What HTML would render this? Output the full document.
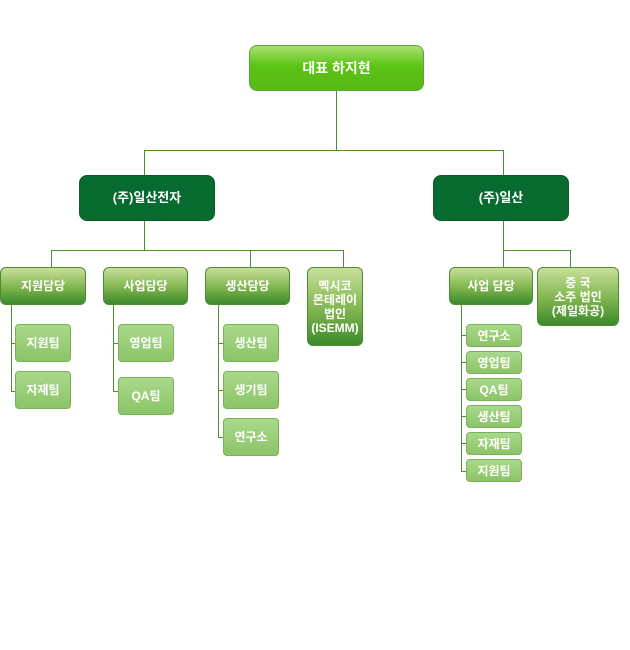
<!DOCTYPE html>
<html><head><meta charset="utf-8"><style>
body{margin:0;width:630px;height:650px;background:#fff;position:relative;overflow:hidden;font-family:"Liberation Sans","Noto Sans CJK KR",sans-serif;}
.b{position:absolute;box-sizing:border-box;display:flex;align-items:center;justify-content:center;text-align:center;color:#fff;font-weight:bold;border-radius:6px;line-height:14px;}
.ceo{background:linear-gradient(#a8e070,#5cc414 45%,#58b818);border:1px solid #5aa63a;font-size:14px;border-radius:8px;}
.co{background:#076a2e;border:1px solid #0c5a28;font-size:13px;border-radius:8px;}
.d{background:linear-gradient(#c8e09a,#7fb44e 55%,#3b8a2c);border:1px solid #4e8c34;font-size:12px;}
.t{background:linear-gradient(#a9d98a,#8cc468);border:1px solid #7ab25a;font-size:12px;border-radius:4px;}
.l{position:absolute;background:#4a8f2c;}
</style></head><body>
<div class="l" style="left:336px;top:90px;width:1px;height:61px"></div>
<div class="l" style="left:144px;top:150px;width:360px;height:1px"></div>
<div class="l" style="left:144px;top:150px;width:1px;height:26px"></div>
<div class="l" style="left:503px;top:150px;width:1px;height:26px"></div>
<div class="l" style="left:144px;top:220px;width:1px;height:31px"></div>
<div class="l" style="left:51px;top:250px;width:293px;height:1px"></div>
<div class="l" style="left:51px;top:250px;width:1px;height:18px"></div>
<div class="l" style="left:250px;top:250px;width:1px;height:18px"></div>
<div class="l" style="left:343px;top:250px;width:1px;height:18px"></div>
<div class="l" style="left:503px;top:220px;width:1px;height:48px"></div>
<div class="l" style="left:503px;top:250px;width:67px;height:1px"></div>
<div class="l" style="left:570px;top:250px;width:1px;height:18px"></div>
<div class="l" style="left:11px;top:305px;width:1px;height:87px"></div>
<div class="l" style="left:11px;top:343px;width:5px;height:1px"></div>
<div class="l" style="left:11px;top:391px;width:5px;height:1px"></div>
<div class="l" style="left:113px;top:305px;width:1px;height:87px"></div>
<div class="l" style="left:113px;top:343px;width:6px;height:1px"></div>
<div class="l" style="left:113px;top:391px;width:6px;height:1px"></div>
<div class="l" style="left:218px;top:305px;width:1px;height:133px"></div>
<div class="l" style="left:218px;top:343px;width:6px;height:1px"></div>
<div class="l" style="left:218px;top:390px;width:6px;height:1px"></div>
<div class="l" style="left:218px;top:437px;width:6px;height:1px"></div>
<div class="l" style="left:461px;top:305px;width:1px;height:167px"></div>
<div class="l" style="left:461px;top:335px;width:6px;height:1px"></div>
<div class="l" style="left:461px;top:362px;width:6px;height:1px"></div>
<div class="l" style="left:461px;top:389px;width:6px;height:1px"></div>
<div class="l" style="left:461px;top:416px;width:6px;height:1px"></div>
<div class="l" style="left:461px;top:443px;width:6px;height:1px"></div>
<div class="l" style="left:461px;top:471px;width:6px;height:1px"></div>

<div class="b ceo" style="left:249px;top:45px;width:175px;height:46px">대표 하지현</div>
<div class="b co" style="left:79px;top:175px;width:136px;height:46px">(주)일산전자</div>
<div class="b co" style="left:433px;top:175px;width:136px;height:46px">(주)일산</div>

<div class="b d" style="left:0px;top:267px;width:86px;height:38px">지원담당</div>
<div class="b d" style="left:103px;top:267px;width:85px;height:38px">사업담당</div>
<div class="b d" style="left:205px;top:267px;width:85px;height:38px">생산담당</div>
<div class="b d" style="left:307px;top:267px;width:56px;height:79px;font-size:12px">멕시코<br>몬테레이<br>법인<br>(ISEMM)</div>
<div class="b d" style="left:449px;top:267px;width:84px;height:38px">사업 담당</div>
<div class="b d" style="left:537px;top:267px;width:82px;height:59px">중 국<br>소주 법인<br>(제일화공)</div>

<div class="b t" style="left:15px;top:324px;width:56px;height:38px">지원팀</div>
<div class="b t" style="left:15px;top:371px;width:56px;height:38px">자재팀</div>
<div class="b t" style="left:118px;top:324px;width:56px;height:38px">영업팀</div>
<div class="b t" style="left:118px;top:377px;width:56px;height:38px">QA팀</div>
<div class="b t" style="left:223px;top:324px;width:56px;height:38px">생산팀</div>
<div class="b t" style="left:223px;top:371px;width:56px;height:38px">생기팀</div>
<div class="b t" style="left:223px;top:418px;width:56px;height:38px">연구소</div>

<div class="b t" style="left:466px;top:324px;width:56px;height:23px">연구소</div>
<div class="b t" style="left:466px;top:351px;width:56px;height:23px">영업팀</div>
<div class="b t" style="left:466px;top:378px;width:56px;height:23px">QA팀</div>
<div class="b t" style="left:466px;top:405px;width:56px;height:23px">생산팀</div>
<div class="b t" style="left:466px;top:432px;width:56px;height:23px">자재팀</div>
<div class="b t" style="left:466px;top:459px;width:56px;height:23px">지원팀</div>
</body></html>
